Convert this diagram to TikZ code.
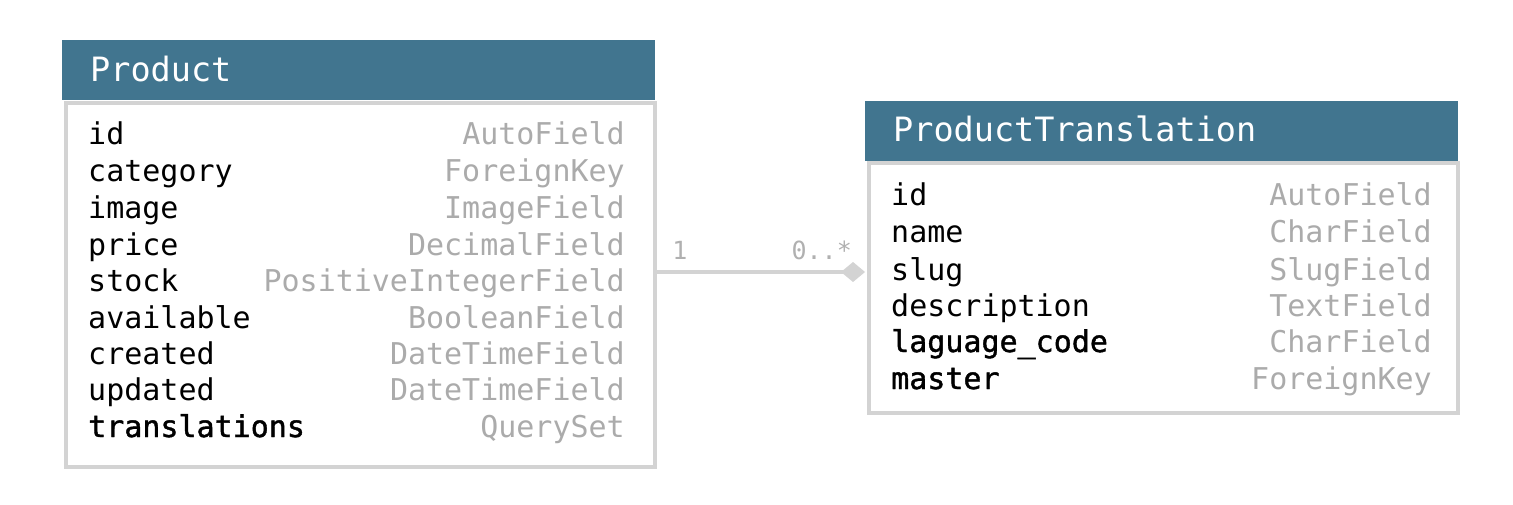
\documentclass[tikz,border=0pt]{standalone}
\usepackage{fontspec}
\usetikzlibrary{arrows.meta}
\newfontfamily\mono{DejaVu Sans Mono}
\newfontfamily\monob[FakeBold=1.3]{DejaVu Sans Mono}
\definecolor{hdr}{HTML}{41758F}
\definecolor{bord}{HTML}{D3D3D3}
\definecolor{typ}{HTML}{ABABAB}
\definecolor{mult}{HTML}{B0B0B0}
\tikzset{
  hbox/.style={fill=hdr, inner sep=0pt, anchor=north west},
  bbox/.style={draw=bord, line width=4pt, fill=white, inner sep=0pt, anchor=north west},
  title/.style={font=\mono\fontsize{33.5}{34}\selectfont, text=white, anchor=base west, inner sep=0pt},
  fname/.style={font=\mono\fontsize{30}{30}\selectfont, text=black, anchor=base west, inner sep=0pt},
  fnameb/.style={font=\monob\fontsize{30}{30}\selectfont, text=black, anchor=base west, inner sep=0pt},
  ftype/.style={font=\mono\fontsize{30}{30}\selectfont, text=typ, anchor=base east, inner sep=0pt},
  mlabel/.style={font=\mono\fontsize{25}{25}\selectfont, text=mult, anchor=base, inner sep=0pt},
  conn/.style={draw=bord, line width=4pt},
}
\begin{document}
\begin{tikzpicture}[x=1pt,y=-1pt]
\useasboundingbox (0,0) rectangle (1513,505);
% Product
\node[hbox, minimum width=593pt, minimum height=60pt] (ph) at (62,40) {};
\node[bbox, minimum width=589pt, minimum height=364pt] (pb) at (64,101) {};
\node[title] (pt) at (90,82) {Product};
\foreach \n/\t/\y/\s [count=\i] in {id/AutoField/145/fname, category/ForeignKey/182/fname, image/ImageField/219/fname, price/DecimalField/255/fname, stock/PositiveIntegerField/291/fname, available/BooleanField/328/fname, created/DateTimeField/364/fname, updated/DateTimeField/400/fname, translations/QuerySet/437/fnameb}{
  \node[\s] (pn\i) at (88,\y) {\n};
  \node[ftype] (pt\i) at (625,\y) {\t};
}
% ProductTranslation
\node[hbox, minimum width=593pt, minimum height=60pt] (th) at (865,101) {};
\node[bbox, minimum width=589pt, minimum height=250pt] (tb) at (867,161) {};
\node[title] (tt) at (893,142) {ProductTranslation};
\foreach \n/\t/\y/\s [count=\i] in {id/AutoField/206/fname, name/CharField/243/fname, slug/SlugField/280/fname, description/TextField/316/fname, laguage\_code/CharField/352/fnameb, master/ForeignKey/389/fnameb}{
  \node[\s] (tn\i) at (891,\y) {\n};
  \node[ftype] (tt\i) at (1432,\y) {\t};
}
% connector
\coordinate (cy) at (0,272);
\draw[conn, -{Diamond[length=24pt,width=20pt,fill=bord]}] (pb.east |- cy) -- ([xshift=-2pt]tb.west |- cy);
\node[mlabel] (m1) at (680,259) {1};
\node[mlabel, anchor=base east] (m2) at (852,259) {0..*};
\end{tikzpicture}
\end{document}
